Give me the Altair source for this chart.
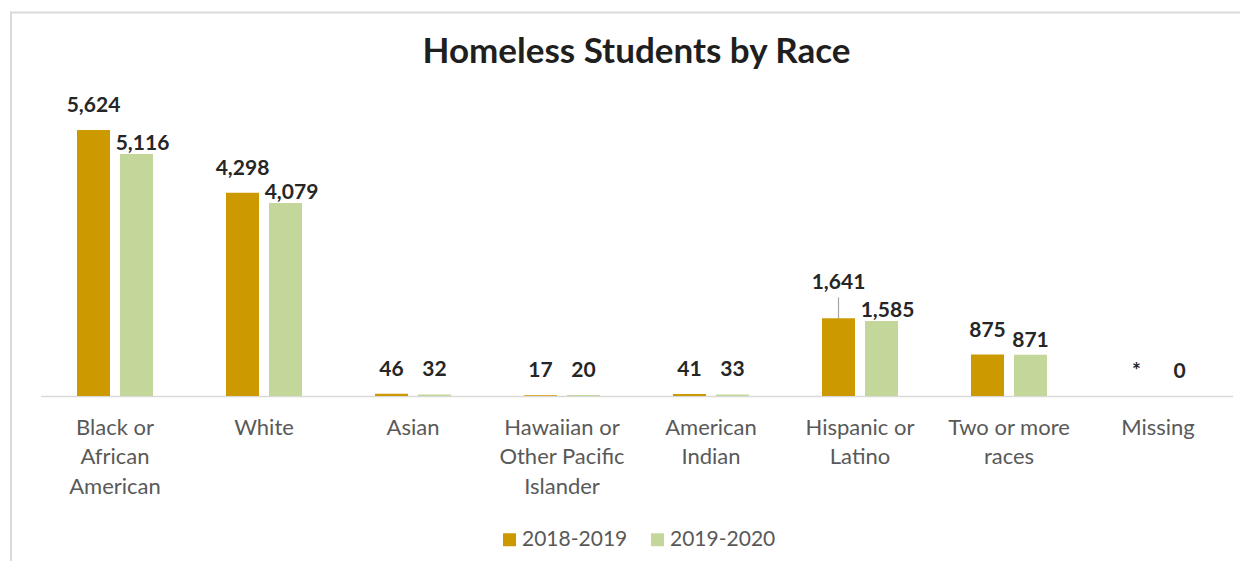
import altair as alt
import pandas as pd

categories = ["Black or African American", "White", "Asian",
              "Hawaiian or Other Pacific Islander", "American Indian",
              "Hispanic or Latino", "Two or more races", "Missing"]
axis_labels = ["Black or|African|American", "White", "Asian",
               "Hawaiian or|Other Pacific|Islander", "American|Indian",
               "Hispanic or|Latino", "Two or more|races", "Missing"]
series = ["2018-2019", "2019-2020"]
values_2018 = [5624, 4298, 46, 17, 41, 1641, 875, 0]
labels_2018 = ["5,624", "4,298", "46", "17", "41", "1,641", "875", "*"]
values_2019 = [5116, 4079, 32, 20, 33, 1585, 871, 0]
labels_2019 = ["5,116", "4,079", "32", "20", "33", "1,585", "871", "0"]
colors = ["#CC9900", "#C4D79B"]

rows = []
for i, c in enumerate(categories):
    rows.append({"cat": c, "series": series[0],
                 "value": values_2018[i], "label": labels_2018[i]})
    rows.append({"cat": c, "series": series[1],
                 "value": values_2019[i], "label": labels_2019[i]})
df = pd.DataFrame(rows)

label_expr = "split({" + ",".join(
    f"'{c}': '{axis_labels[i]}'" for i, c in enumerate(categories)) + "}[datum.label], '|')"

FONT = "Lato"
W, H = 1192, 307.5

x_enc = alt.X("cat:N", sort=categories,
              scale=alt.Scale(paddingInner=0.49, paddingOuter=0.245),
              axis=alt.Axis(title=None, labelExpr=label_expr, labelAngle=0,
                            labelFont=FONT, labelFontSize=22, labelColor="#595959",
                            labelPadding=21, labelLineHeight=29.5,
                            ticks=False, domainColor="#D9D9D9", domainWidth=1.5,
                            labelBaseline="top"))
xoff = alt.XOffset("series:N", sort=series,
                   scale=alt.Scale(paddingInner=0.2326, paddingOuter=0))
y_enc = alt.Y("value:Q", scale=alt.Scale(domain=[0, 6500], nice=False),
              axis=None)

base = alt.Chart(df)

bars = base.mark_bar().encode(
    x=x_enc, xOffset=xoff, y=y_enc,
    color=alt.Color("series:N", sort=series,
                    scale=alt.Scale(domain=series, range=colors),
                    legend=alt.Legend(title=None, orient="none", direction="horizontal",
                                      legendX=458.5, legendY=440.5,
                                      symbolType="square", symbolSize=169,
                                      symbolStrokeWidth=0,
                                      labelFont=FONT, labelFontSize=21,
                                      labelColor="#595959", labelOffset=2,
                                      columnPadding=19, padding=0))
)

txt_style = dict(font=FONT, fontSize=21, fontWeight="bold", color="#262626",
                 baseline="alphabetic", align="center")


def lab(cond, dy, dx=0):
    return base.mark_text(dy=dy, dx=dx, **txt_style).encode(
        x=x_enc, xOffset=xoff, y=y_enc, text="label:N"
    ).transform_filter(cond)


gold = alt.datum.series == series[0]
green = alt.datum.series == series[1]
hisp = alt.datum.cat == "Hispanic or Latino"

gold_lab = lab(gold & ~hisp, -18)
gold_hisp = lab(gold & hisp, -29)
green_big = lab(green & (alt.datum.value > 1000), -4, 6)
green_mid = lab(green & (alt.datum.value > 500) & (alt.datum.value <= 1000), -8)
green_small = lab(green & (alt.datum.value <= 500), -18)

leader = base.mark_rule(color="#A6A6A6", strokeWidth=1.2, y2Offset=-21).encode(
    x=x_enc, xOffset=xoff, y=y_enc, y2="value:Q"
).transform_filter(gold & hisp)

one = alt.Chart(pd.DataFrame({"a": [0]}))
border_top = one.mark_rule(color="#D9D9D9", strokeWidth=2).encode(
    x=alt.value(-30), x2=alt.value(1220), y=alt.value(-76))
border_left = one.mark_rule(color="#D9D9D9", strokeWidth=2).encode(
    x=alt.value(-29.5), y=alt.value(-77), y2=alt.value(500))

chart = alt.layer(bars, leader, gold_lab, gold_hisp, green_big, green_mid,
                  green_small, border_top, border_left).properties(
    width=W, height=H,
    background="white",
    title=alt.TitleParams("Homeless Students by Race", font=FONT, fontSize=35,
                          fontWeight="bold", color="#1f1f1f", anchor="middle",
                          baseline="alphabetic", offset=0, dy=87, frame="group"),
    padding={"left": 32.5, "top": 80.5, "right": 7, "bottom": 165},
    autosize=alt.AutoSizeParams(type="none"),
).configure_view(stroke=None, strokeWidth=0)

chart.save("out.html", embed_options={"renderer": "svg", "actions": False})
